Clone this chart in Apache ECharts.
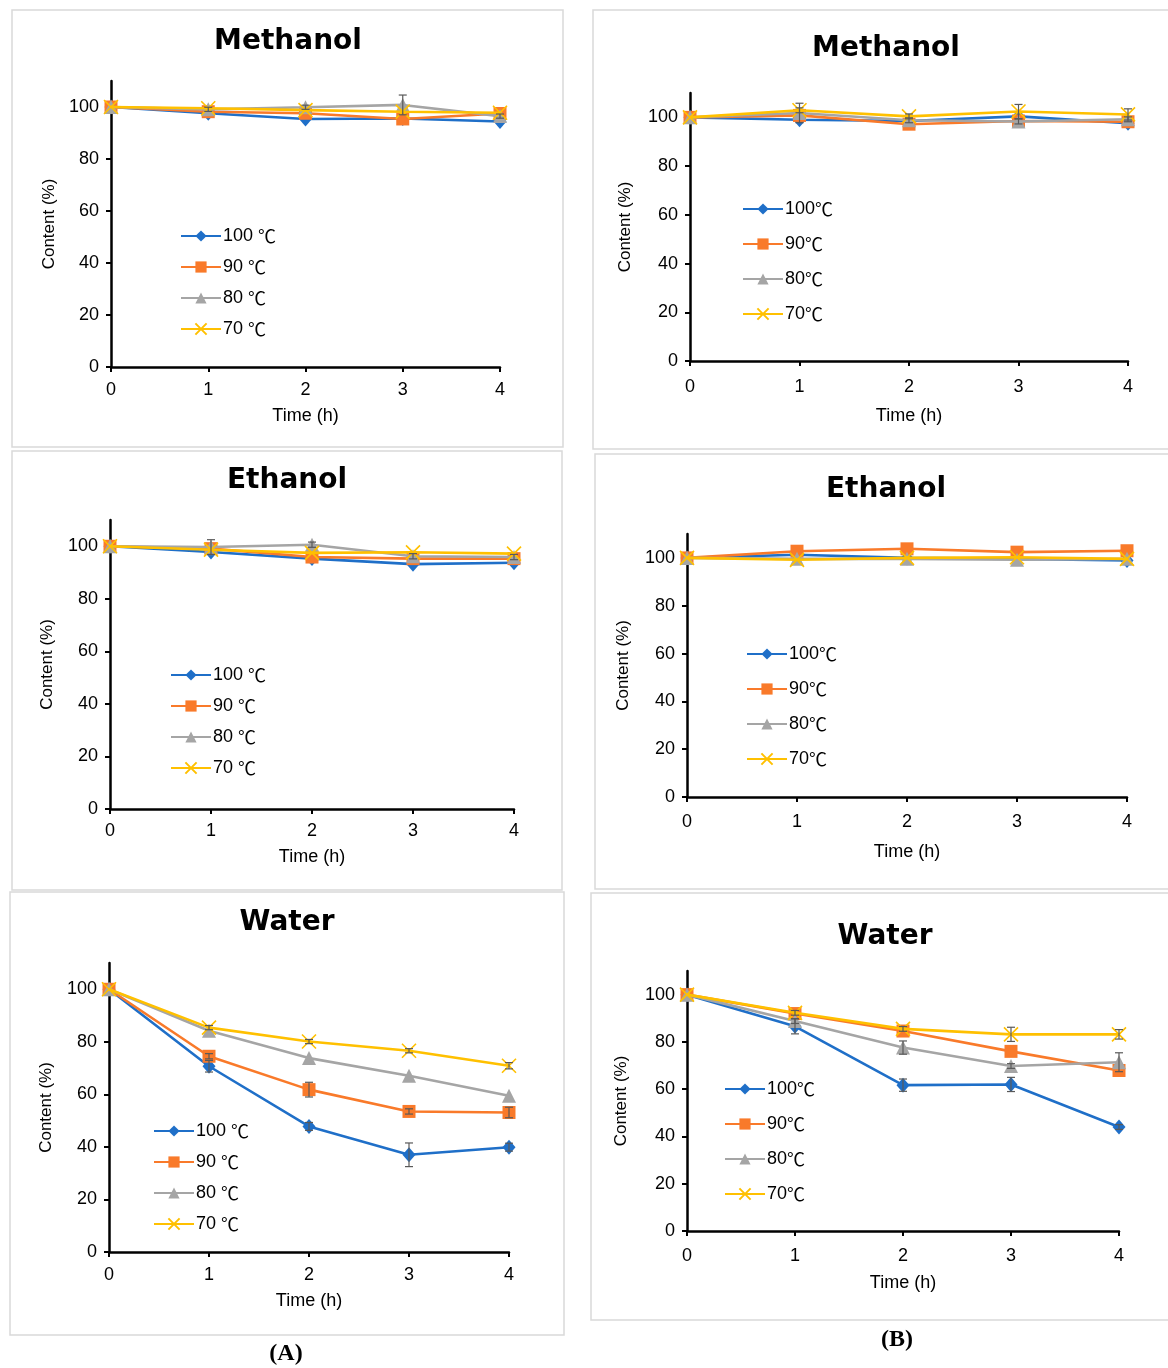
<!DOCTYPE html>
<html>
<head>
<meta charset="utf-8">
<script src="https://cdn.jsdelivr.net/npm/echarts@6/dist/echarts.min.js"></script>
<style>
html,body{margin:0;padding:0;background:#fff;}
#chart{width:1168px;height:1368px;}
</style>
</head>
<body>
<div id="chart"></div>
<script>
// ---------------- DATA ----------------
const timeH = [0, 1, 2, 3, 4];
const yTicks = [0, 20, 40, 60, 80, 100];
const namesA = ['100 ℃', '90 ℃', '80 ℃', '70 ℃'];
const namesB = ['100℃', '90℃', '80℃', '70℃'];

// (A) Methanol
const methA_100 = [100, 97.6, 95.4, 95.6, 94.4];
const methA_90  = [100, 98.2, 97.6, 95.4, 97.5];
const methA_80  = [100, 99.1, 99.9, 100.8, 96.5];
const methA_70  = [100, 99.5, 98.8, 98.2, 97.8];
const methA_err80 = [0, 0.8, 0.8, 3.8, 0.8];

// (B) Methanol
const methB_100 = [100, 99.0, 98.5, 100.4, 97.6];
const methB_90  = [100, 100.8, 97.2, 98.5, 98.2];
const methB_80  = [100, 101.8, 98.8, 98.3, 99.2];
const methB_70  = [100, 102.9, 100.4, 102.4, 101.2];
const methB_err80 = [0, 4.0, 1.0, 1.0, 1.0];
const methB_err70 = [0, 1.0, 1.0, 2.9, 2.3];

// (A) Ethanol
const ethA_100 = [100, 97.8, 95.3, 93.2, 93.7];
const ethA_90  = [100, 99.1, 95.9, 95.3, 95.3];
const ethA_80  = [100, 99.7, 100.6, 96.2, 95.9];
const ethA_70  = [100, 98.7, 97.5, 97.7, 97.2];
const ethA_err80 = [0, 2.8, 1.0, 1.0, 1.0];

// (B) Ethanol
const ethB_100 = [100, 101.3, 100.0, 99.6, 98.9];
const ethB_90  = [100, 102.8, 103.8, 102.4, 103.0];
const ethB_80  = [100, 99.6, 99.6, 99.2, 99.6];
const ethB_70  = [100, 99.2, 100.0, 100.3, 99.6];

// (A) Water
const watA_100 = [100, 70.7, 47.8, 37.0, 39.9];
const watA_90  = [100, 74.5, 61.8, 53.5, 53.1];
const watA_80  = [100, 84.2, 73.8, 67.1, 59.5];
const watA_70  = [100, 85.4, 80.1, 76.6, 70.9];
const watA_err100 = [0, 2.2, 1.5, 4.5, 1.5];
const watA_err90  = [0, 1.0, 2.8, 1.0, 2.0];
const watA_err70  = [0, 0.8, 0.8, 0.8, 1.2];

// (B) Water
const watB_100 = [100, 86.6, 61.7, 62.0, 44.0];
const watB_90  = [100, 92.0, 84.6, 76.0, 67.9];
const watB_80  = [100, 88.8, 77.6, 69.8, 71.4];
const watB_70  = [100, 92.3, 85.5, 83.2, 83.2];
const watB_err100 = [0, 3.2, 2.6, 3.0, 1.0];
const watB_err80  = [0, 1.0, 2.8, 1.0, 4.0];
const watB_err70  = [0, 1.0, 1.0, 3.0, 2.0];

// ---------------- STYLE ----------------
const colors = ['#1F6FC8', '#F97A2A', '#A5A5A5', '#FFC000'];
const symbols = ['diamond', 'rect', 'triangle', 'path://M0,0L10,10M10,0L0,10'];
const symbolSizes = [[13, 15], 13, 14, 14];
const FONT = '"Liberation Sans", Arial, sans-serif';

const panels = [
  { title: 'Methanol', tx: 288, ty: 42, box: [12, 10, 551, 437],
    grid: { left: 111, top: 81, width: 389, height: 286 },
    names: namesA, data: [methA_100, methA_90, methA_80, methA_70],
    errs: [null, null, methA_err80, null],
    yGap: 53, xGap: 40, xMargin: 14, lg: { left: 180, top: 227, gap: 13 } },
  { title: 'Methanol', tx: 886, ty: 49, box: [593, 10, 600, 439],
    grid: { left: 690, top: 93, width: 438, height: 268 },
    names: namesB, data: [methB_100, methB_90, methB_80, methB_70],
    errs: [null, null, methB_err80, methB_err70],
    yGap: 56, xGap: 46, xMargin: 17, lg: { left: 742, top: 200, gap: 17 } },
  { title: 'Ethanol', tx: 287, ty: 481, box: [12, 451, 550, 439],
    grid: { left: 110, top: 520, width: 404, height: 289 },
    names: namesA, data: [ethA_100, ethA_90, ethA_80, ethA_70],
    errs: [null, null, ethA_err80, null],
    yGap: 54, xGap: 39, xMargin: 13, lg: { left: 170, top: 666, gap: 13 } },
  { title: 'Ethanol', tx: 886, ty: 490, box: [595, 454, 600, 435],
    grid: { left: 687, top: 534, width: 440, height: 263 },
    names: namesB, data: [ethB_100, ethB_90, ethB_80, ethB_70],
    errs: [null, null, null, null],
    yGap: 55, xGap: 46, xMargin: 16, lg: { left: 746, top: 645, gap: 17 } },
  { title: 'Water', tx: 287, ty: 923, box: [10, 892, 554, 443],
    grid: { left: 109, top: 963, width: 400, height: 289 },
    names: namesA, data: [watA_100, watA_90, watA_80, watA_70],
    errs: [watA_err100, watA_err90, null, watA_err70],
    yGap: 54, xGap: 40, xMargin: 14, lg: { left: 153, top: 1122, gap: 13 } },
  { title: 'Water', tx: 885, ty: 937, box: [591, 893, 600, 427],
    grid: { left: 687, top: 971, width: 432, height: 260 },
    names: namesB, data: [watB_100, watB_90, watB_80, watB_70],
    errs: [watB_err100, null, watB_err80, watB_err70],
    yGap: 57, xGap: 43, xMargin: 16, lg: { left: 724, top: 1080, gap: 17 } }
];

const option = {
  animation: false,
  backgroundColor: '#fff',
  grid: [], xAxis: [], yAxis: [], series: [], legend: [], graphic: []
};

function errRender(params, api) {
  const x = api.value(0), y = api.value(1), e = api.value(2);
  const p1 = api.coord([x, y + e]);
  const p2 = api.coord([x, y - e]);
  const st = { stroke: '#595959', lineWidth: 1.2 };
  return {
    type: 'group',
    children: [
      { type: 'line', shape: { x1: p1[0], y1: p1[1], x2: p2[0], y2: p2[1] }, style: st },
      { type: 'line', shape: { x1: p1[0] - 4, y1: p1[1], x2: p1[0] + 4, y2: p1[1] }, style: st },
      { type: 'line', shape: { x1: p2[0] - 4, y1: p2[1], x2: p2[0] + 4, y2: p2[1] }, style: st }
    ]
  };
}

panels.forEach((p, i) => {
  option.graphic.push({
    type: 'rect', silent: true, z: -10,
    shape: { x: p.box[0], y: p.box[1], width: p.box[2], height: p.box[3] },
    style: { fill: 'none', stroke: '#D9D9D9', lineWidth: 1.5 }
  });
  option.graphic.push({
    type: 'text', silent: true,
    x: p.tx, y: p.ty,
    style: { text: p.title, font: 'bold 28px "DejaVu Sans", sans-serif',
             fill: '#000', textAlign: 'center', textVerticalAlign: 'middle' }
  });
  option.grid.push(Object.assign({ containLabel: false }, p.grid));
  option.xAxis.push({
    type: 'value', gridIndex: i, min: 0, max: 4, interval: 1,
    name: 'Time (h)', nameLocation: 'middle', nameGap: p.xGap,
    nameTextStyle: { fontFamily: FONT, fontSize: 18, color: '#000' },
    axisLine: { onZero: false, lineStyle: { color: '#000', width: 2.5 } },
    axisTick: { show: true, length: 5, lineStyle: { color: '#000', width: 2 } },
    axisLabel: { margin: p.xMargin, fontFamily: FONT, fontSize: 18, color: '#000' },
    splitLine: { show: false }
  });
  option.yAxis.push({
    type: 'value', gridIndex: i, min: 0, max: 110, interval: 20,
    name: 'Content (%)', nameLocation: 'middle', nameGap: p.yGap,
    nameTextStyle: { fontFamily: FONT, fontSize: 17, color: '#000' },
    axisLine: { show: true, lineStyle: { color: '#000', width: 2.5 } },
    axisTick: { show: true, length: 5, customValues: yTicks, lineStyle: { color: '#000', width: 2 } },
    axisLabel: { margin: 12, customValues: yTicks, fontFamily: FONT, fontSize: 18, color: '#000' },
    splitLine: { show: false }
  });
  p.data.forEach((vals, k) => {
    const isCross = k === 3;
    option.series.push({
      type: 'line', name: p.names[k], xAxisIndex: i, yAxisIndex: i,
      data: timeH.map((t, j) => [t, vals[j]]),
      symbol: symbols[k], symbolSize: symbolSizes[k],
      lineStyle: { color: colors[k], width: 2.6 },
      itemStyle: isCross
        ? { color: colors[k], borderColor: colors[k], borderWidth: 1.6 }
        : { color: colors[k], borderWidth: 0 },
      z: 3 + k, silent: true
    });
    const e = p.errs[k];
    if (e) {
      option.series.push({
        type: 'custom', xAxisIndex: i, yAxisIndex: i, z: 10, silent: true,
        renderItem: errRender,
        encode: { x: 0, y: 1 },
        data: timeH.map((t, j) => [t, vals[j], e[j]]).filter(d => d[2] > 0)
      });
    }
  });
  option.legend.push({
    orient: 'vertical', left: p.lg.left, top: p.lg.top, itemGap: p.lg.gap,
    itemWidth: 40, itemHeight: 14, padding: 0,
    data: p.names,
    formatter: (n) => n.replace('℃', '{c|℃}'),
    textStyle: {
      fontFamily: FONT, fontSize: 18, color: '#000', padding: [0, 0, 0, -3],
      rich: { c: { fontFamily: '"Noto Sans CJK SC", sans-serif', fontSize: 18, color: '#000' } }
    },
    selectedMode: false
  });
});

option.graphic.push({
  type: 'text', silent: true, x: 286, y: 1354,
  style: { text: '(A)', font: 'bold 24px "Liberation Serif", serif', fill: '#000',
           textAlign: 'center', textVerticalAlign: 'middle' }
});
option.graphic.push({
  type: 'text', silent: true, x: 897, y: 1340,
  style: { text: '(B)', font: 'bold 24px "Liberation Serif", serif', fill: '#000',
           textAlign: 'center', textVerticalAlign: 'middle' }
});

const chart = echarts.init(document.getElementById('chart'), null, { renderer: 'canvas' });
chart.setOption(option);
</script>
</body>
</html>
